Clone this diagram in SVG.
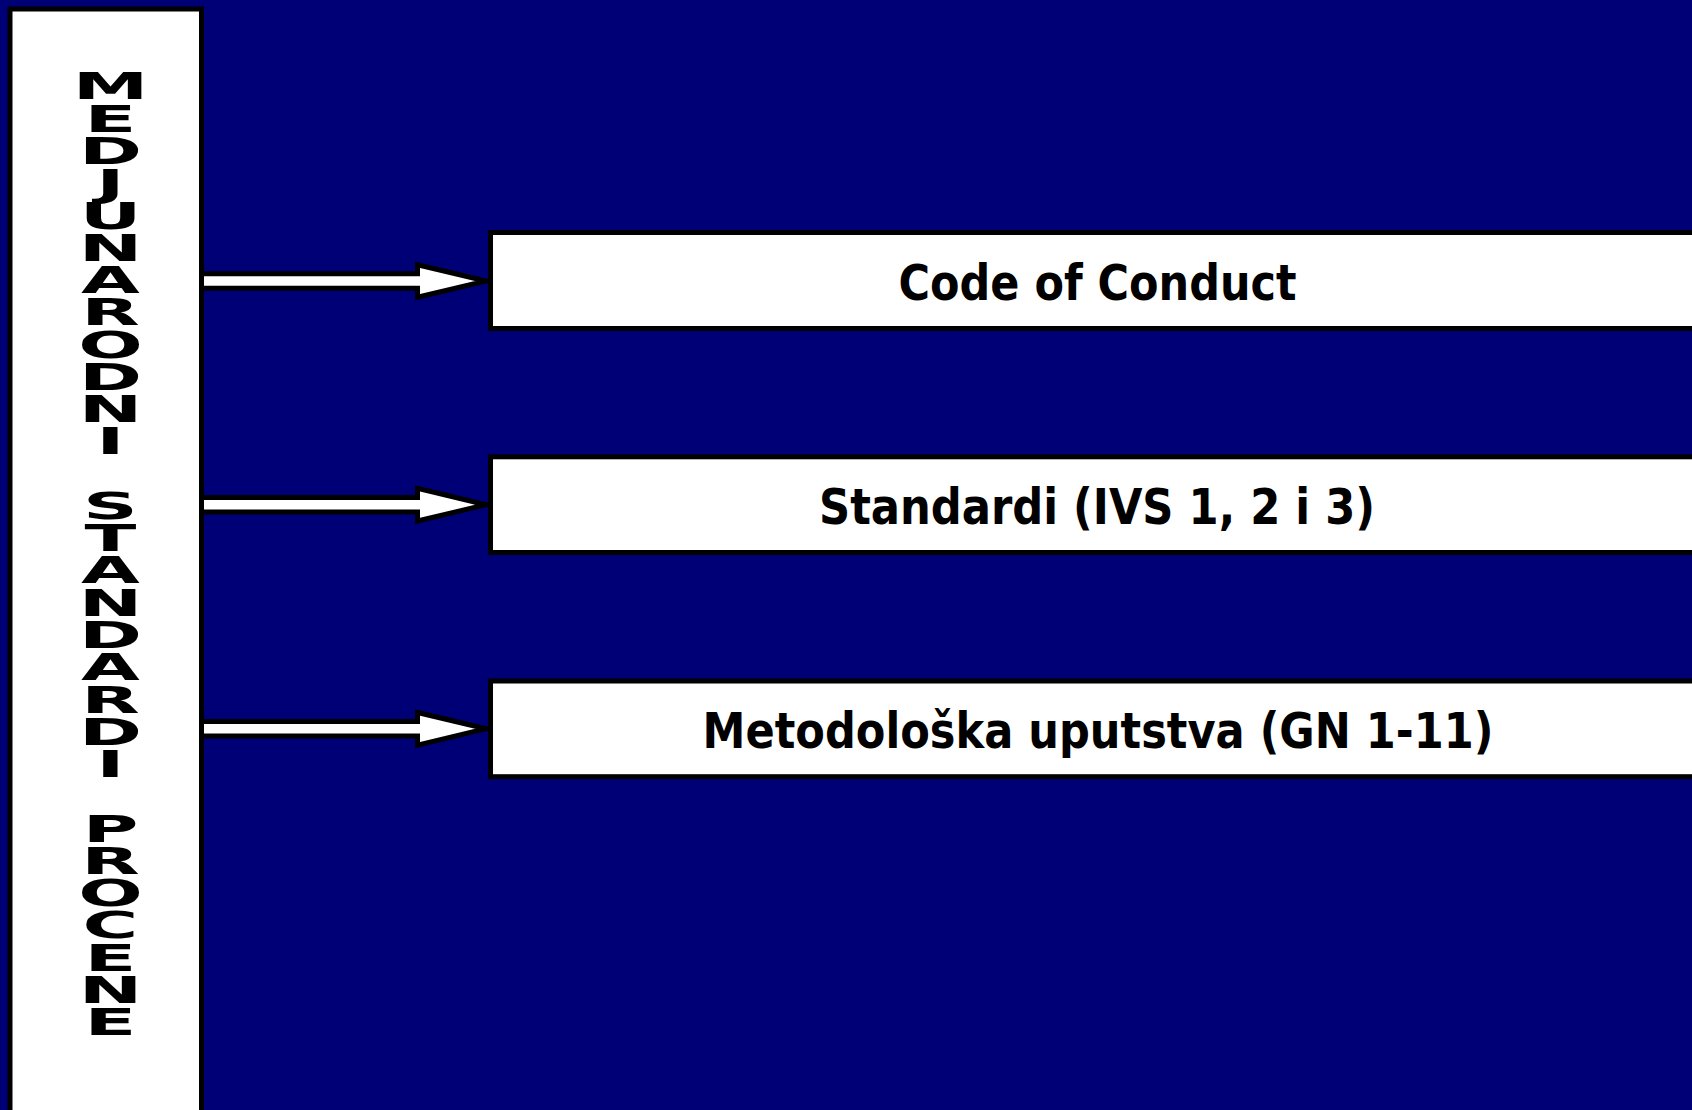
<svg xmlns="http://www.w3.org/2000/svg" width="1692" height="1110" viewBox="0 0 1692 1110">
<style>
.box{fill:#ffffff;stroke:#000000;stroke-width:5}
.arrow{fill:#ffffff;stroke:#000000;stroke-width:5;stroke-linejoin:miter;stroke-miterlimit:12}
.lbl{font-family:"DejaVu Sans","Verdana",sans-serif;font-weight:bold;font-size:50px;fill:#000000;text-anchor:middle}
.vt{font-family:"DejaVu Sans","Verdana",sans-serif;font-weight:bold;font-size:38px;fill:#000000;writing-mode:vertical-rl;text-orientation:upright;letter-spacing:-12px}
</style>
<defs>
<path id="arr" d="M201.5,-7.2 L417.5,-7.2 L417.5,-16.3 L486,0 L417.5,16.3 L417.5,7.2 L201.5,7.2 Z"/>
</defs>
<rect x="0" y="0" width="1692" height="1110" fill="#000076"/>
<g id="connectors">
<use href="#arr" class="arrow" transform="translate(0,281)"/>
<use href="#arr" class="arrow" transform="translate(0,504.7)"/>
<use href="#arr" class="arrow" transform="translate(0,728.8)"/>
</g>
<g id="node-left">
<rect class="box" x="10" y="9" width="191.5" height="1200"/>
<g transform="scale(2,1)">
<text class="vt" x="55.25" y="64">MEDJUNARODNI STANDARDI PROCENE</text>
</g>
</g>
<g id="node-code">
<rect class="box" x="490.5" y="232.5" width="1300" height="96"/>
<text class="lbl" x="1097.5" y="300" textLength="398" lengthAdjust="spacingAndGlyphs">Code of Conduct</text>
</g>
<g id="node-standardi">
<rect class="box" x="490.5" y="456.8" width="1300" height="95.7"/>
<text class="lbl" x="1097" y="524.2" textLength="556" lengthAdjust="spacingAndGlyphs">Standardi (IVS 1, 2 i 3)</text>
</g>
<g id="node-metodoloska">
<rect class="box" x="490.5" y="681" width="1300" height="95.7"/>
<text class="lbl" x="1098" y="748.3" textLength="791" lengthAdjust="spacingAndGlyphs">Metodološka uputstva (GN 1-11)</text>
</g>
</svg>
